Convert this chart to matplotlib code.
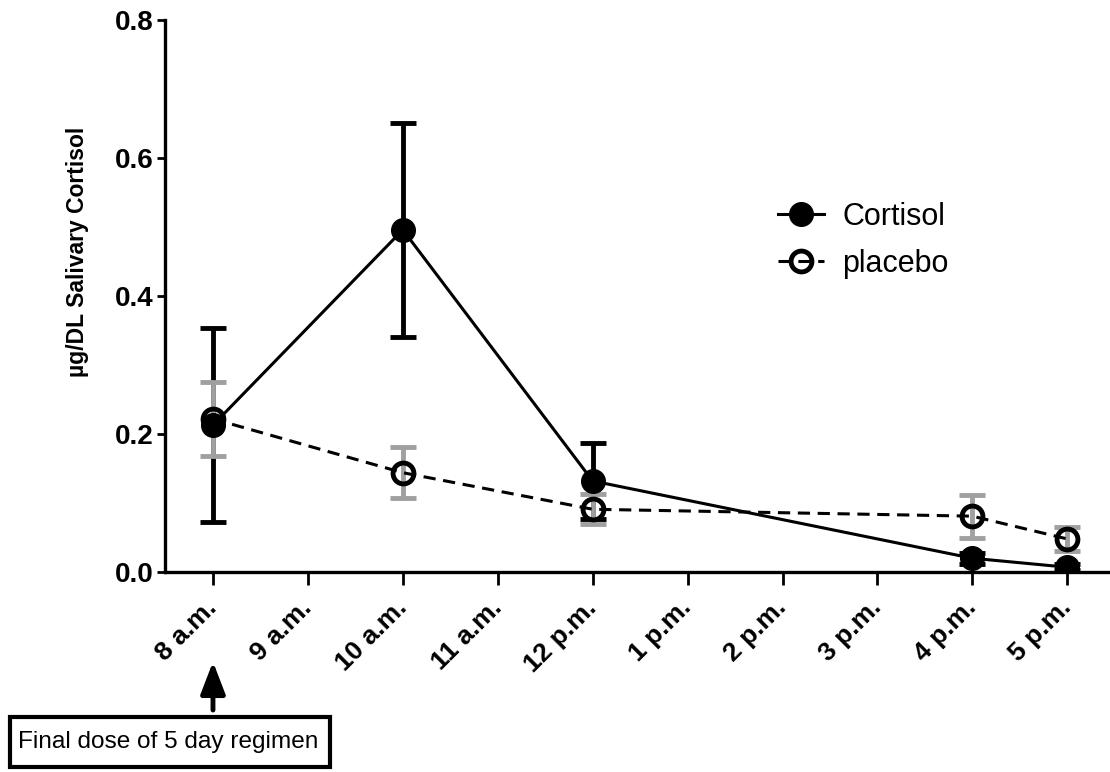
import matplotlib
matplotlib.use('Agg')
import matplotlib.pyplot as plt
from matplotlib.patches import Rectangle
import numpy as np

plt.rcParams['font.family'] = ['Liberation Sans', 'DejaVu Sans']

# time of day in hours
hours = [8, 10, 12, 16, 17]
tick_hours = [8, 9, 10, 11, 12, 13, 14, 15, 16, 17]
tick_labels = ['8 a.m.', '9 a.m.', '10 a.m.', '11 a.m.', '12 p.m.',
               '1 p.m.', '2 p.m.', '3 p.m.', '4 p.m.', '5 p.m.']

cortisol = [0.213, 0.496, 0.132, 0.020, 0.007]
cortisol_err = [0.140, 0.155, 0.055, 0.008, 0.004]
placebo = [0.222, 0.144, 0.091, 0.081, 0.048]
placebo_err = [0.054, 0.037, 0.022, 0.031, 0.018]

fig = plt.figure(figsize=(11.1, 7.72), dpi=100)
ax = fig.add_axes([0.1486, 0.259, 0.8514, 0.715])

# error bars first, gray placebo bars over black cortisol bars
ax.errorbar(hours, cortisol, yerr=cortisol_err, fmt='none', ecolor='black',
            elinewidth=3.5, capsize=9.5, capthick=3.5, zorder=2)
ax.errorbar(hours, placebo, yerr=placebo_err, fmt='none', ecolor='#a0a0a0',
            elinewidth=3.5, capsize=9.5, capthick=3.5, zorder=3)

ax.plot(hours, cortisol, '-', color='black', lw=2.2, marker='o',
        markersize=17, markerfacecolor='black', markeredgecolor='black',
        label='Cortisol', zorder=4)
ax.plot(hours, placebo, '--', color='black', lw=2.2, dashes=(4, 2.5),
        marker='o', markersize=15, markerfacecolor='none',
        markeredgecolor='black', markeredgewidth=3.5,
        label='placebo', zorder=5)

ax.set_xlim(7.494, 17.45)
ax.set_ylim(0, 0.8)
ax.set_yticks([0.0, 0.2, 0.4, 0.6, 0.8])
ax.set_yticklabels(['0.0', '0.2', '0.4', '0.6', '0.8'], fontsize=20,
                   fontweight='bold')
ax.set_xticks(tick_hours)
ax.set_xticklabels(tick_labels, fontsize=19, fontweight='bold',
                   rotation=45, ha='right', va='center',
                   rotation_mode='anchor')

for s in ['top', 'right']:
    ax.spines[s].set_visible(False)
for s in ['left', 'bottom']:
    ax.spines[s].set_linewidth(2.4)
ax.tick_params(axis='x', direction='out', length=9, width=2, pad=14)
ax.tick_params(axis='y', direction='out', length=6, width=2, pad=2)

ax.set_ylabel('µg/DL Salivary Cortisol', fontsize=16.5, fontweight='bold',
              labelpad=19)
ax.yaxis.label.set_y(0.58)

leg = ax.legend(loc='upper left', bbox_to_anchor=(0.62, 0.72), frameon=False,
                fontsize=22, handlelength=1.5, handletextpad=0.6,
                labelspacing=0.54)

# annotation arrow and box below the 8 a.m. tick
ax.annotate('', xy=(8, -0.13), xycoords='data',
            xytext=(8, -0.2), textcoords='data',
            arrowprops=dict(arrowstyle='-|>,head_length=0.65,head_width=0.25',
                            color='black', lw=3.5, mutation_scale=30,
                            shrinkA=0, shrinkB=0),
            annotation_clip=False)
fig.patches.append(Rectangle((10 / 1110, 5 / 772), 320 / 1110, 50 / 772,
                             transform=fig.transFigure, facecolor='white',
                             edgecolor='black', lw=3))
fig.text(18 / 1110, 30 / 772, 'Final dose of 5 day regimen', fontsize=17.6,
         ha='left', va='center')

fig.savefig('out.png', dpi=100)
